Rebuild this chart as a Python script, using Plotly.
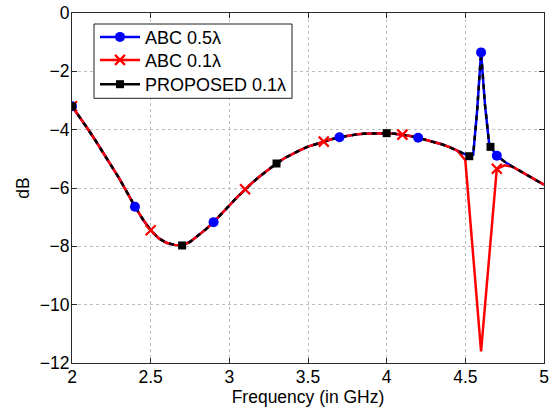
import plotly.graph_objects as go

# ---- data ----
freq_common = [2.00, 2.05, 2.10, 2.15, 2.20, 2.25, 2.30, 2.35, 2.40, 2.45,
               2.50, 2.55, 2.60, 2.65, 2.70, 2.75, 2.80, 2.85, 2.90, 2.95,
               3.00, 3.05, 3.10, 3.15, 3.20, 3.25, 3.30, 3.35, 3.40, 3.45,
               3.50, 3.55, 3.60, 3.65, 3.70, 3.75, 3.80, 3.85, 3.90, 3.95,
               4.00, 4.05, 4.10, 4.15, 4.20, 4.25, 4.30, 4.35, 4.40, 4.45]
db_common = [-3.20, -3.57, -3.97, -4.38, -4.80, -5.22, -5.67, -6.15, -6.64, -7.07,
             -7.45, -7.72, -7.88, -7.95, -7.97, -7.85, -7.64, -7.42, -7.17, -6.90,
             -6.60, -6.31, -6.04, -5.80, -5.57, -5.35, -5.16, -4.98, -4.83, -4.70,
             -4.58, -4.49, -4.41, -4.33, -4.26, -4.21, -4.17, -4.14, -4.13, -4.12,
             -4.12, -4.14, -4.17, -4.22, -4.28, -4.35, -4.42, -4.50, -4.60, -4.72]

# ABC 0.5 lambda and PROPOSED 0.1 lambda share the resonance peak
freq_peak_tail = [4.50, 4.525, 4.55, 4.575, 4.60, 4.625, 4.65, 4.66, 4.70,
                  4.75, 4.80, 4.85, 4.90, 4.95, 5.00]
db_abc05_tail = [-4.86, -4.91, -4.86, -3.35, -1.35, -3.15, -4.42, -4.59, -4.89,
                 -5.10, -5.27, -5.42, -5.57, -5.73, -5.89]
db_prop_tail = [-4.86, -4.91, -4.86, -3.35, -1.35, -3.15, -4.42, -4.59, -4.89,
                -5.10, -5.27, -5.42, -5.57, -5.73, -5.89]

# ABC 0.1 lambda has a notch instead
freq_notch_tail = [4.50, 4.60, 4.70, 4.75, 4.80, 4.85, 4.90, 4.95, 5.00]
db_abc01_tail = [-5.05, -11.60, -5.34, -5.22, -5.27, -5.42, -5.57, -5.73, -5.89]

# frequencies where each series shows a marker
marks_abc05 = [2.0, 2.4, 2.9, 3.7, 4.2, 4.6, 4.7]
marks_abc01 = [2.0, 2.5, 3.1, 3.6, 4.1, 4.7]
marks_prop = [2.0, 2.7, 3.3, 4.0, 4.525, 4.66]

names = ["ABC 0.5λ", "ABC 0.1λ", "PROPOSED 0.1λ"]
x_ticks = [2, 2.5, 3, 3.5, 4, 4.5, 5]
y_ticks = [0, -2, -4, -6, -8, -10, -12]

# ---- assemble series ----
f_abc05 = freq_common + freq_peak_tail
y_abc05 = db_common + db_abc05_tail
f_abc01 = freq_common + freq_notch_tail
y_abc01 = db_common + db_abc01_tail
f_prop = freq_common + freq_peak_tail
y_prop = db_common + db_prop_tail


def pick(fs, ys, marks):
    xs, vs = [], []
    for m in marks:
        i = min(range(len(fs)), key=lambda k: abs(fs[k] - m))
        xs.append(fs[i])
        vs.append(ys[i])
    return xs, vs


BLUE = "rgb(0,0,255)"
RED = "rgb(255,0,0)"
BLACK = "rgb(0,0,0)"
LW = 2.5

series = [
    dict(name=names[0], f=f_abc05, y=y_abc05, m=marks_abc05, color=BLUE,
         dash="solid", marker=dict(symbol="circle", size=10, color=BLUE)),
    dict(name=names[1], f=f_abc01, y=y_abc01, m=marks_abc01, color=RED,
         dash="solid", marker=dict(symbol="x-thin", size=10, color=RED,
                                   line=dict(color=RED, width=2.2))),
    dict(name=names[2], f=f_prop, y=y_prop, m=marks_prop, color=BLACK,
         dash="5px,5px", marker=dict(symbol="square", size=8, color=BLACK)),
]

fig = go.Figure()
for s in series:
    fig.add_trace(go.Scatter(x=s["f"], y=s["y"], mode="lines",
                             line=dict(color=s["color"], width=LW, dash=s["dash"]),
                             showlegend=False, hoverinfo="skip"))
for s in series:
    mx, my = pick(s["f"], s["y"], s["m"])
    fig.add_trace(go.Scatter(x=mx, y=my, mode="markers", marker=s["marker"],
                             showlegend=False))
legend_ids = ["legend", "legend2", "legend3"]
for s, lid in zip(series, legend_ids):
    fig.add_trace(go.Scatter(x=[None], y=[None], mode="lines+markers",
                             name=s["name"], legend=lid,
                             line=dict(color=s["color"], width=LW),
                             marker=s["marker"]))

FONT = "Liberation Sans, Arial, Helvetica, sans-serif"
axis_common = dict(
    showline=True, linecolor="rgb(40,40,40)", linewidth=1, mirror="ticks",
    ticks="inside", ticklen=5, tickcolor="rgb(40,40,40)", tickwidth=1,
    showgrid=True, gridcolor="rgb(190,190,190)", griddash="dot", gridwidth=1,
    zeroline=False, tickfont=dict(size=17.5, color="black"), automargin=False,
    ticklabelstandoff=-2,
)

# plot area in px: left 72, top 13, width 472, height 350
PL, PT, PW, PH = 72, 13, 472, 350


def px_x(px):
    return (px - PL) / PW


def px_y(py):
    return (PT + PH - py) / PH


item_centers = [37.7, 60.7, 85.0]
legends = {}
for lid, cy in zip(legend_ids, item_centers):
    legends[lid] = dict(x=px_x(95), y=px_y(cy - 19), xanchor="left", yanchor="top",
                        bgcolor="rgba(0,0,0,0)", borderwidth=0,
                        font=dict(size=18), itemwidth=40)

fig.update_layout(
    width=553, height=409,
    margin=dict(l=PL, r=553 - PL - PW, t=PT, b=409 - PT - PH),
    paper_bgcolor="white", plot_bgcolor="white",
    font=dict(family=FONT, size=17.5, color="black"),
    xaxis=dict(range=[2, 5], tickvals=x_ticks, ticktext=[str(v) for v in x_ticks],
               title=dict(text="Frequency (in GHz)", standoff=4,
                          font=dict(size=17.5)), **axis_common),
    yaxis=dict(range=[-12, 0], tickvals=y_ticks,
               ticktext=[("\u2212" + str(-v)) if v < 0 else str(v) for v in y_ticks],
               title=dict(text="dB", standoff=5, font=dict(size=17.5)), **axis_common),
    shapes=[dict(type="rect", xref="paper", yref="paper",
                 x0=px_x(94), x1=px_x(292), y0=px_y(98.3), y1=px_y(24),
                 fillcolor="white", line=dict(color="rgb(30,30,30)", width=1),
                 layer="above")],
    showlegend=True,
    **legends,
)

fig.write_html("out.html")
